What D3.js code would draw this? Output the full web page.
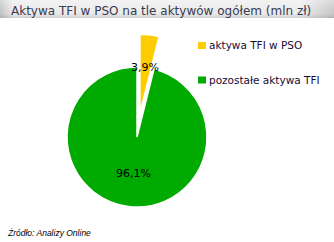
<!DOCTYPE html>
<html>
<head>
<meta charset="utf-8">
<script src="https://cdn.jsdelivr.net/npm/d3@7"></script>
<style>
  body { margin: 0; background: #fff; }
  svg { display: block; }
</style>
</head>
<body>
<div id="chart"></div>
<script>
// data
var categories = ["aktywa TFI w PSO", "pozostałe aktywa TFI"];
var shares = [3.9, 96.1];
var labels = ["3,9%", "96,1%"];
var colors = ["#ffcc00", "#00aa00"];

var width = 334, height = 242;

var svg = d3.select("#chart").append("svg")
    .attr("width", width)
    .attr("height", height);

var defs = svg.append("defs");
var hg = defs.append("linearGradient").attr("id", "hg")
    .attr("x1", 0).attr("x2", 1).attr("y1", 0).attr("y2", 0);
hg.append("stop").attr("offset", "0").attr("stop-color", "#c4c4c4");
hg.append("stop").attr("offset", "0.04").attr("stop-color", "#ebebeb");
hg.append("stop").attr("offset", "0.9").attr("stop-color", "#ececec");
hg.append("stop").attr("offset", "1").attr("stop-color", "#c8c8c8");
var vg = defs.append("linearGradient").attr("id", "vg")
    .attr("x1", 0).attr("x2", 0).attr("y1", 0).attr("y2", 1);
vg.append("stop").attr("offset", "0").attr("stop-color", "#fff").attr("stop-opacity", 0.35);
vg.append("stop").attr("offset", "0.6").attr("stop-color", "#fff").attr("stop-opacity", 0);
vg.append("stop").attr("offset", "1").attr("stop-color", "#000").attr("stop-opacity", 0.12);

// header bar
svg.append("rect").attr("x", 0).attr("y", 0).attr("width", width).attr("height", 18)
    .attr("fill", "url(#hg)");
svg.append("rect").attr("x", 0).attr("y", 0).attr("width", width).attr("height", 18)
    .attr("fill", "url(#vg)");
svg.append("text")
    .attr("x", 11).attr("y", 14.5)
    .attr("font-family", "DejaVu Sans")
    .attr("font-size", 12)
    .attr("fill", "#3a3a50")
    .text("Aktywa TFI w PSO na tle aktywów ogółem (mln zł)");

// pie
var cx = 137, cy = 137, r = 70;
var pie = d3.pie().sort(null).value(function(d) { return d; });
var arcs = pie(shares);
var arc = d3.arc().innerRadius(0).outerRadius(r);
var bigArc = d3.arc().innerRadius(0).outerRadius(79);

var g = svg.append("g").attr("transform", "translate(" + cx + "," + cy + ")");

// exploded slice offset along its mid angle
function offset(d, dist) {
    var a = (d.startAngle + d.endAngle) / 2;
    return [Math.sin(a) * dist, -Math.cos(a) * dist];
}

g.selectAll("path.slice")
    .data(arcs)
    .enter().append("path")
    .attr("class", "slice")
    .attr("d", function(d, i) { return i === 0 ? bigArc(d) : arc(d); })
    .attr("transform", function(d, i) {
        var o = i === 0 ? offset(d, 24) : [0, 0];
        return "translate(" + o[0] + "," + o[1] + ")";
    })
    .attr("fill", function(d, i) { return colors[i]; })
    .attr("stroke", "#fff")
    .attr("stroke-width", 1.5);

// percent labels
var labelPos = [[8, -66], [-3.5, 40]];
g.selectAll("text.pct")
    .data(labels)
    .enter().append("text")
    .attr("class", "pct")
    .attr("x", function(d, i) { return labelPos[i][0]; })
    .attr("y", function(d, i) { return labelPos[i][1]; })
    .attr("text-anchor", "middle")
    .attr("font-family", "DejaVu Sans")
    .attr("font-size", 11)
    .attr("fill", "#000")
    .text(function(d) { return d; });

// legend
var legend = svg.append("g").attr("transform", "translate(198,42)");
var item = legend.selectAll("g")
    .data(categories)
    .enter().append("g")
    .attr("transform", function(d, i) { return "translate(0," + (i * 34.5) + ")"; });
item.append("rect")
    .attr("width", 8).attr("height", 7)
    .attr("fill", function(d, i) { return colors[i]; });
item.append("text")
    .attr("x", 11).attr("y", 7)
    .attr("font-family", "DejaVu Sans")
    .attr("font-size", 10.5)
    .attr("fill", "#1a0a33")
    .text(function(d) { return d; });

// source note
svg.append("text")
    .attr("x", 8).attr("y", 236)
    .attr("font-family", "Liberation Sans")
    .attr("font-style", "italic")
    .attr("font-size", 8.5)
    .attr("fill", "#000")
    .text("Źródło: Analizy Online");
</script>
</body>
</html>
